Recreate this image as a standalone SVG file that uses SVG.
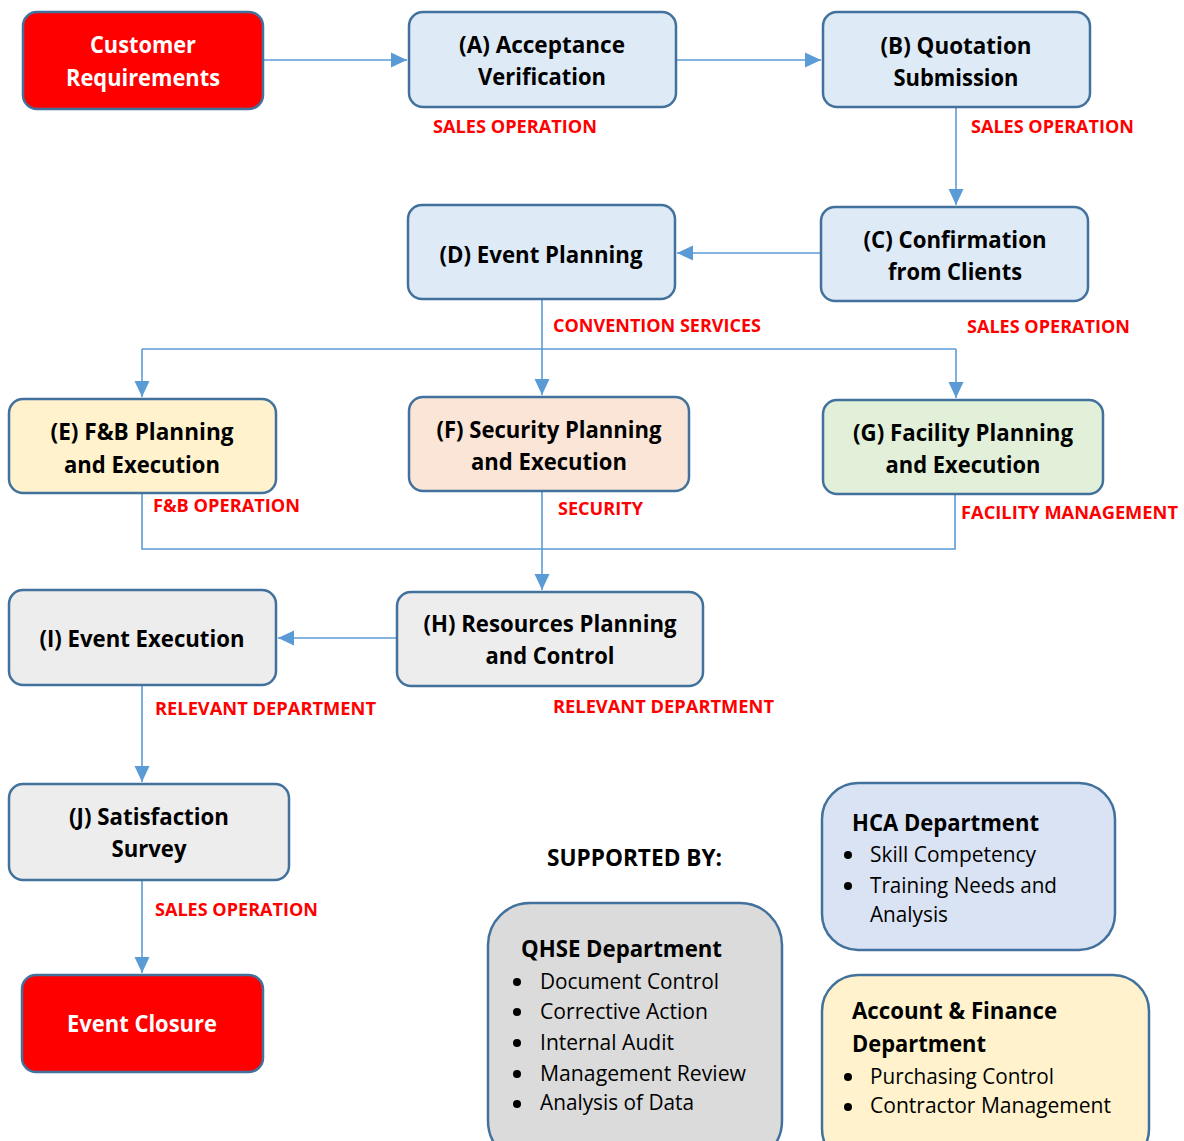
<svg xmlns="http://www.w3.org/2000/svg" width="1184" height="1141" viewBox="0 0 1184 1141">
<style>
text{font-family:"Open Sans","Liberation Sans",sans-serif;}
.box{stroke:#41719C;stroke-width:2.5;}
.red{fill:#FF0000;}
.blue{fill:#DEEAF6;}
.yel{fill:#FFF2CC;}
.pch{fill:#FBE5D6;}
.grn{fill:#E2F0D9;}
.gry{fill:#EDEDED;}
.t{font-weight:bold;font-size:23px;text-anchor:middle;fill:#000;}
.tw{font-weight:bold;font-size:23px;text-anchor:middle;fill:#fff;}
.lbl{font-weight:bold;font-size:18.5px;fill:#FF0000;}
.h{font-weight:bold;font-size:23px;fill:#000;}
.b{font-size:21px;fill:#000;}
.con{fill:none;stroke:#5B9BD5;stroke-width:1.6;}
.bul{fill:#000;}
</style>
<defs>
<marker id="ar" markerUnits="userSpaceOnUse" markerWidth="17" markerHeight="17" viewBox="0 0 17 17" refX="16" refY="8.5" orient="auto">
<path d="M0,1 L16,8.5 L0,16 Z" fill="#5B9BD5"/>
</marker>
</defs>
<rect width="1184" height="1141" fill="#fff"/>

<g id="connectors">
<path class="con" d="M263,60 H407" marker-end="url(#ar)"/>
<path class="con" d="M676,60 H821" marker-end="url(#ar)"/>
<path class="con" d="M956,107 V205" marker-end="url(#ar)"/>
<path class="con" d="M821,253 H677" marker-end="url(#ar)"/>
<path class="con" d="M542,299 V395" marker-end="url(#ar)"/>
<path class="con" d="M142,349 H956"/>
<path class="con" d="M142,349 V397" marker-end="url(#ar)"/>
<path class="con" d="M956,349 V398" marker-end="url(#ar)"/>
<path class="con" d="M142,493 V549 H955 V494"/>
<path class="con" d="M542,491 V590" marker-end="url(#ar)"/>
<path class="con" d="M397,638 H278" marker-end="url(#ar)"/>
<path class="con" d="M142,685 V782" marker-end="url(#ar)"/>
<path class="con" d="M142,880 V973" marker-end="url(#ar)"/>
</g>

<g id="labels">
<text class="lbl" x="433" y="133" textLength="164" lengthAdjust="spacingAndGlyphs">SALES OPERATION</text>
<text class="lbl" x="971" y="133" textLength="163" lengthAdjust="spacingAndGlyphs">SALES OPERATION</text>
<text class="lbl" x="967" y="333" textLength="163" lengthAdjust="spacingAndGlyphs">SALES OPERATION</text>
<text class="lbl" x="553" y="332" textLength="208" lengthAdjust="spacingAndGlyphs">CONVENTION SERVICES</text>
<text class="lbl" x="153" y="512" textLength="147" lengthAdjust="spacingAndGlyphs">F&amp;B OPERATION</text>
<text class="lbl" x="558" y="515" textLength="85" lengthAdjust="spacingAndGlyphs">SECURITY</text>
<text class="lbl" x="961" y="519" textLength="217" lengthAdjust="spacingAndGlyphs">FACILITY MANAGEMENT</text>
<text class="lbl" x="155" y="715" textLength="221" lengthAdjust="spacingAndGlyphs">RELEVANT DEPARTMENT</text>
<text class="lbl" x="553" y="713" textLength="221" lengthAdjust="spacingAndGlyphs">RELEVANT DEPARTMENT</text>
<text class="lbl" x="155" y="916" textLength="163" lengthAdjust="spacingAndGlyphs">SALES OPERATION</text>
<text class="h" x="547" y="866" textLength="175" lengthAdjust="spacingAndGlyphs">SUPPORTED BY:</text>
</g>

<g id="customer-requirements">
<rect class="box red" x="23" y="12" width="240" height="97" rx="14"/>
<text class="tw" x="143" y="53" textLength="106" lengthAdjust="spacingAndGlyphs">Customer</text>
<text class="tw" x="143" y="86" textLength="154" lengthAdjust="spacingAndGlyphs">Requirements</text>
</g>
<g id="node-a">
<rect class="box blue" x="409" y="12" width="267" height="95" rx="14"/>
<text class="t" x="542" y="53" textLength="166" lengthAdjust="spacingAndGlyphs">(A) Acceptance</text>
<text class="t" x="542" y="85" textLength="128" lengthAdjust="spacingAndGlyphs">Verification</text>
</g>
<g id="node-b">
<rect class="box blue" x="823" y="12" width="267" height="95" rx="14"/>
<text class="t" x="956" y="54" textLength="151" lengthAdjust="spacingAndGlyphs">(B) Quotation</text>
<text class="t" x="956" y="86" textLength="125" lengthAdjust="spacingAndGlyphs">Submission</text>
</g>
<g id="node-c">
<rect class="box blue" x="821" y="207" width="267" height="94" rx="14"/>
<text class="t" x="955" y="248" textLength="183" lengthAdjust="spacingAndGlyphs">(C) Confirmation</text>
<text class="t" x="955" y="280" textLength="134" lengthAdjust="spacingAndGlyphs">from Clients</text>
</g>
<g id="node-d">
<rect class="box blue" x="408" y="205" width="267" height="94" rx="14"/>
<text class="t" x="541" y="263" textLength="203" lengthAdjust="spacingAndGlyphs">(D) Event Planning</text>
</g>
<g id="node-e">
<rect class="box yel" x="9" y="399" width="267" height="94" rx="14"/>
<text class="t" x="142" y="440" textLength="183" lengthAdjust="spacingAndGlyphs">(E) F&amp;B Planning</text>
<text class="t" x="142" y="473" textLength="156" lengthAdjust="spacingAndGlyphs">and Execution</text>
</g>
<g id="node-f">
<rect class="box pch" x="409" y="397" width="280" height="94" rx="14"/>
<text class="t" x="549" y="438" textLength="225" lengthAdjust="spacingAndGlyphs">(F) Security Planning</text>
<text class="t" x="549" y="470" textLength="156" lengthAdjust="spacingAndGlyphs">and Execution</text>
</g>
<g id="node-g">
<rect class="box grn" x="823" y="400" width="280" height="94" rx="14"/>
<text class="t" x="963" y="441" textLength="220" lengthAdjust="spacingAndGlyphs">(G) Facility Planning</text>
<text class="t" x="963" y="473" textLength="155" lengthAdjust="spacingAndGlyphs">and Execution</text>
</g>
<g id="node-h">
<rect class="box gry" x="397" y="592" width="306" height="94" rx="14"/>
<text class="t" x="550" y="632" textLength="253" lengthAdjust="spacingAndGlyphs">(H) Resources Planning</text>
<text class="t" x="550" y="664" textLength="129" lengthAdjust="spacingAndGlyphs">and Control</text>
</g>
<g id="node-i">
<rect class="box gry" x="9" y="590" width="267" height="95" rx="14"/>
<text class="t" x="142" y="647" textLength="205" lengthAdjust="spacingAndGlyphs">(I) Event Execution</text>
</g>
<g id="node-j">
<rect class="box gry" x="9" y="784" width="280" height="96" rx="14"/>
<text class="t" x="149" y="825" textLength="160" lengthAdjust="spacingAndGlyphs">(J) Satisfaction</text>
<text class="t" x="149" y="857" textLength="75" lengthAdjust="spacingAndGlyphs">Survey</text>
</g>
<g id="event-closure">
<rect class="box red" x="22" y="975" width="241" height="97" rx="14"/>
<text class="tw" x="142" y="1032" textLength="150" lengthAdjust="spacingAndGlyphs">Event Closure</text>
</g>

<g id="hca-department">
<rect class="box" fill="#DAE3F3" x="822" y="783" width="293" height="167" rx="36"/>
<text class="h" x="852" y="831" textLength="187" lengthAdjust="spacingAndGlyphs">HCA Department</text>
<circle class="bul" cx="848" cy="855" r="4"/>
<text class="b" x="870" y="862" textLength="166" lengthAdjust="spacingAndGlyphs">Skill Competency</text>
<circle class="bul" cx="848" cy="886" r="4"/>
<text class="b" x="870" y="893" textLength="187" lengthAdjust="spacingAndGlyphs">Training Needs and</text>
<text class="b" x="870" y="922" textLength="78" lengthAdjust="spacingAndGlyphs">Analysis</text>
</g>
<g id="account-finance-department">
<rect class="box" fill="#FFF2CC" x="822" y="975" width="327" height="190" rx="36"/>
<text class="h" x="852" y="1019" textLength="205" lengthAdjust="spacingAndGlyphs">Account &amp; Finance</text>
<text class="h" x="852" y="1052" textLength="134" lengthAdjust="spacingAndGlyphs">Department</text>
<circle class="bul" cx="848" cy="1077" r="4"/>
<text class="b" x="870" y="1084" textLength="184" lengthAdjust="spacingAndGlyphs">Purchasing Control</text>
<circle class="bul" cx="848" cy="1107" r="4"/>
<text class="b" x="870" y="1113" textLength="241" lengthAdjust="spacingAndGlyphs">Contractor Management</text>
</g>
<g id="qhse-department">
<rect class="box" fill="#DBDBDB" x="488" y="903" width="294" height="260" rx="42"/>
<text class="h" x="521" y="957" textLength="201" lengthAdjust="spacingAndGlyphs">QHSE Department</text>
<circle class="bul" cx="517" cy="982" r="4"/>
<text class="b" x="540" y="989" textLength="179" lengthAdjust="spacingAndGlyphs">Document Control</text>
<circle class="bul" cx="517" cy="1012" r="4"/>
<text class="b" x="540" y="1019" textLength="168" lengthAdjust="spacingAndGlyphs">Corrective Action</text>
<circle class="bul" cx="517" cy="1043" r="4"/>
<text class="b" x="540" y="1050" textLength="134" lengthAdjust="spacingAndGlyphs">Internal Audit</text>
<circle class="bul" cx="517" cy="1074" r="4"/>
<text class="b" x="540" y="1081" textLength="206" lengthAdjust="spacingAndGlyphs">Management Review</text>
<circle class="bul" cx="517" cy="1104" r="4"/>
<text class="b" x="540" y="1110" textLength="154" lengthAdjust="spacingAndGlyphs">Analysis of Data</text>
</g>
</svg>
